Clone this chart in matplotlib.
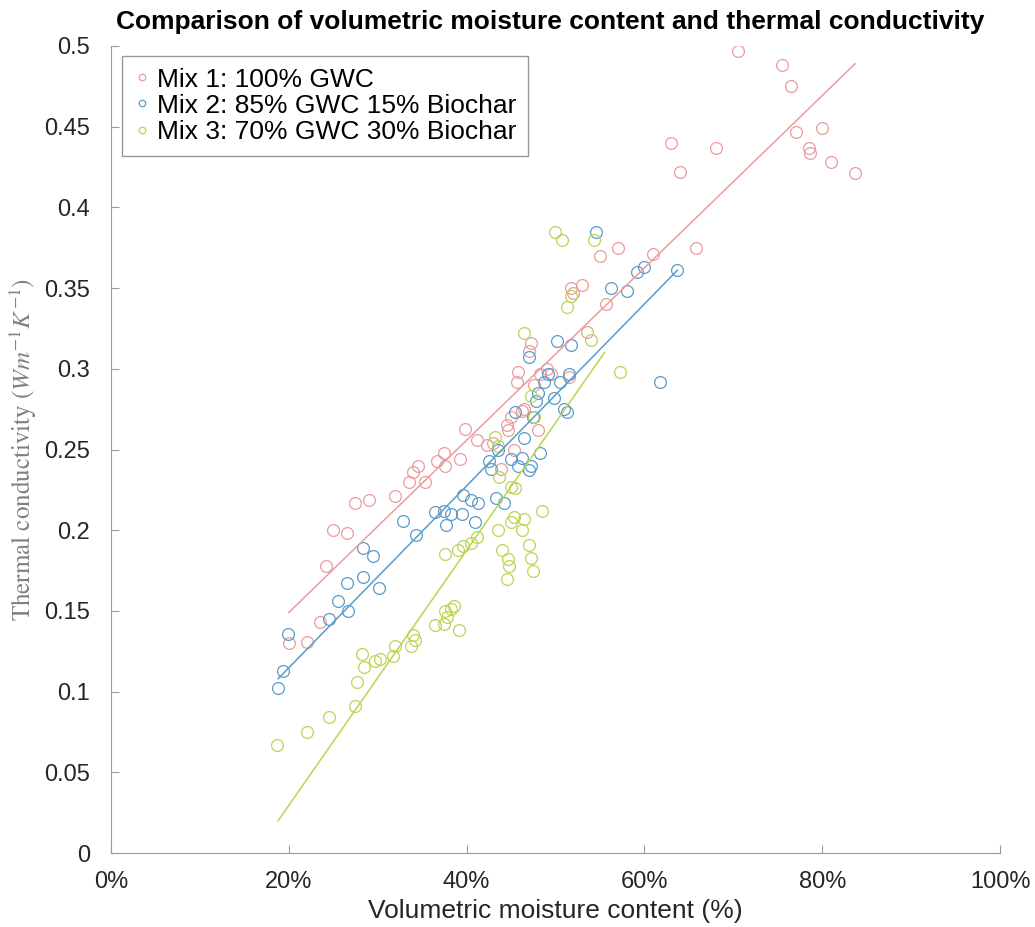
import numpy as np
import matplotlib
matplotlib.use("Agg")
import matplotlib.pyplot as plt
from matplotlib.ticker import PercentFormatter

# volumetric moisture content (%), thermal conductivity (W m^-1 K^-1)
mix1_x = [20, 22, 23.5, 24.2, 25, 26.5, 27.5, 29, 32, 33.5, 34, 34.5, 35.3, 36.7,
          37.5, 37.6, 39.3, 39.8, 41.2, 42.3, 43, 43.9, 44.5, 44.7, 45, 45.3, 45.7,
          45.8, 46.2, 46.5, 47, 47.2, 47.6, 48, 48.3, 49, 49.5, 51.5, 51.7, 52, 53,
          53.5, 55, 55.7, 57, 61, 65.8, 63, 64, 68, 70.5, 75.5, 76.5, 77, 78.5, 78.6,
          80, 81, 83.7]
mix1_y = [0.13, 0.131, 0.143, 0.178, 0.2, 0.198, 0.217, 0.219, 0.221, 0.23, 0.236,
          0.24, 0.23, 0.243, 0.248, 0.24, 0.244, 0.263, 0.256, 0.253, 0.254, 0.238,
          0.265, 0.262, 0.27, 0.25, 0.292, 0.298, 0.274, 0.275, 0.311, 0.316, 0.29,
          0.262, 0.297, 0.3, 0.297, 0.295, 0.35, 0.347, 0.352, 0.323, 0.37, 0.34,
          0.375, 0.371, 0.375, 0.44, 0.422, 0.437, 0.497, 0.488, 0.475, 0.447, 0.437,
          0.434, 0.449, 0.428, 0.421]

mix2_x = [18.8, 19.3, 19.9, 24.5, 25.5, 26.5, 26.7, 28.4, 28.3, 29.5, 30.2, 32.8,
          34.3, 36.5, 37.5, 37.7, 38.3, 39.5, 39.6, 40.5, 41, 41.3, 42.5, 42.8, 43.3,
          43.5, 44.2, 45, 45.5, 45.8, 46.2, 46.5, 47, 47, 47.3, 47.5, 47.8, 48, 48.3,
          48.7, 49.2, 49.8, 50.2, 50.5, 51, 51.3, 51.5, 51.7, 54.6, 56.3, 58, 59.2,
          60, 61.8, 63.7]
mix2_y = [0.102, 0.113, 0.136, 0.145, 0.156, 0.167, 0.15, 0.171, 0.189, 0.184, 0.164,
          0.206, 0.197, 0.211, 0.212, 0.203, 0.21, 0.21, 0.222, 0.219, 0.205, 0.217,
          0.243, 0.238, 0.22, 0.25, 0.217, 0.244, 0.273, 0.24, 0.245, 0.257, 0.307,
          0.237, 0.24, 0.27, 0.28, 0.285, 0.248, 0.292, 0.297, 0.282, 0.317, 0.292,
          0.275, 0.273, 0.297, 0.315, 0.385, 0.35, 0.348, 0.36, 0.363, 0.292, 0.361]

mix3_x = [18.7, 22, 24.5, 27.5, 27.7, 28.2, 28.5, 29.7, 30.3, 31.7, 32, 33.8, 34,
          34.2, 36.5, 37.5, 37.6, 37.8, 38.3, 38.6, 39.2, 37.6, 39, 39.6, 40.5, 41.2,
          43.5, 43.7, 44, 44.5, 44.7, 44.8, 45, 45.3, 45.5, 46.2, 46.5, 47, 47.3, 47.5,
          48.5, 43.2, 43.5, 45, 46.5, 47.2, 47.6, 50, 50.7, 51.3, 51.7, 54, 54.3, 57.3]
mix3_y = [0.067, 0.075, 0.084, 0.091, 0.106, 0.123, 0.115, 0.119, 0.12, 0.122, 0.128,
          0.128, 0.135, 0.132, 0.141, 0.142, 0.15, 0.146, 0.151, 0.153, 0.138, 0.185,
          0.188, 0.19, 0.192, 0.196, 0.2, 0.233, 0.188, 0.17, 0.182, 0.178, 0.205,
          0.208, 0.226, 0.2, 0.207, 0.191, 0.183, 0.175, 0.212, 0.258, 0.252, 0.227,
          0.322, 0.283, 0.27, 0.385, 0.38, 0.338, 0.345, 0.318, 0.38, 0.298]

# fitted trend lines (start/end)
fit1_x = [20, 83.7]
fit1_y = [0.149, 0.489]
fit2_x = [18.8, 63.7]
fit2_y = [0.108, 0.361]
fit3_x = [18.8, 55.5]
fit3_y = [0.020, 0.310]

labels = ["Mix 1: 100% GWC", "Mix 2: 85% GWC 15% Biochar", "Mix 3: 70% GWC 30% Biochar"]
colors = ["#eb9c9c", "#5a9cc8", "#bcd454"]

plt.rcParams['font.family'] = ['Liberation Sans', 'DejaVu Sans']
plt.rcParams['mathtext.fontset'] = 'stix'

fig = plt.figure(figsize=(10.35, 9.27), dpi=100)
ax = fig.add_axes([0.1072, 0.0798, 0.859, 0.8706])

series = [(mix1_x, mix1_y, fit1_x, fit1_y),
          (mix2_x, mix2_y, fit2_x, fit2_y),
          (mix3_x, mix3_y, fit3_x, fit3_y)]
for (sx, sy, fx, fy), lab, c in zip(series, labels, colors):
    ax.plot(sx, sy, 'o', mfc='none', mec=c, ms=8.5, mew=0.9, label=lab)
for (sx, sy, fx, fy), c in zip(series, colors):
    ax.plot(fx, fy, '-', color=c, lw=1.1)

ax.set_xlim(0, 100)
ax.set_ylim(0, 0.5)
ax.set_xticks(np.arange(0, 101, 20))
ax.set_yticks(np.arange(0, 0.51, 0.05))
ax.set_yticklabels(['0', '0.05', '0.1', '0.15', '0.2', '0.25', '0.3', '0.35',
                    '0.4', '0.45', '0.5'])
ax.xaxis.set_major_formatter(PercentFormatter(decimals=0))
ax.tick_params(direction='in', length=6, width=0.8, colors='#9a9a9a',
               labelcolor='#262626', labelsize=17)
ax.tick_params(axis='x', pad=13)
ax.tick_params(axis='y', pad=15)
for s in ['top', 'right']:
    ax.spines[s].set_visible(False)
for s in ['left', 'bottom']:
    ax.spines[s].set_color('#9a9a9a')
    ax.spines[s].set_linewidth(0.8)

ax.set_xlabel('Volumetric moisture content (%)', fontsize=19, color='#262626', labelpad=4)
ax.set_ylabel(r'Thermal conductivity $(Wm^{-1}K^{-1})$', fontsize=18, color='#808080',
              family='STIXGeneral', labelpad=4)

fig.text(0.532, 0.976, 'Comparison of volumetric moisture content and thermal conductivity',
         ha='center', va='center', fontsize=19, fontweight='bold', color='black')

leg = ax.legend(loc='upper left', bbox_to_anchor=(0.012, 0.988), borderaxespad=0,
                fontsize=19, fancybox=False, framealpha=1, edgecolor='#999999',
                handletextpad=0.26, handlelength=0.62, borderpad=0.45,
                labelspacing=0.08, markerscale=0.55)
leg.get_frame().set_linewidth(1.0)

fig.savefig('out.png', dpi=100)
